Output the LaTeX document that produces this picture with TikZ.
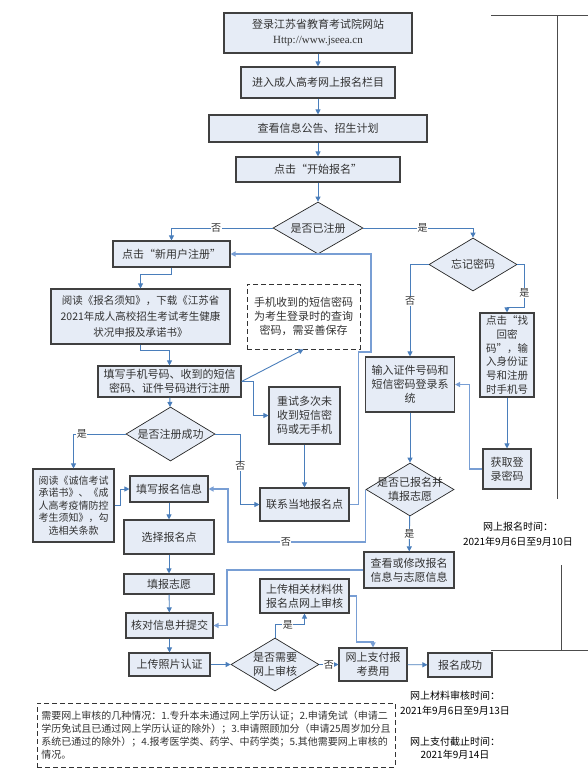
\documentclass[tikz,border=0pt]{standalone}
\usepackage{fontspec}
\setmainfont{Noto Sans CJK SC}
\newfontfamily\latinfont{Liberation Serif}
\usetikzlibrary{shapes.geometric,arrows.meta}
\definecolor{boxfill}{RGB}{230,236,246}
\definecolor{flowblue}{RGB}{74,126,187}
\definecolor{lightflow}{RGB}{120,158,212}

\begin{document}
\begin{tikzpicture}[x=1pt,y=-1pt,
    font=\fontsize{11}{14}\selectfont,
    box/.style 2 args={draw=black!75, line width=1.1pt, fill=boxfill, text=black!80, align=center, inner sep=1pt, minimum width=#1pt, minimum height=#2pt},
    decide/.style 2 args={diamond, draw=black!85, line width=0.7pt, fill=boxfill, inner sep=0pt, minimum width=#1pt, minimum height=#2pt},
    flow/.style={draw=flowblue, line width=0.9pt, -{Triangle[length=5pt,width=5pt]}},
    loopflow/.style={flow, draw=lightflow, line width=1.4pt},
    tag/.style={fill=white, inner sep=0.5pt, text=black!80, font=\fontsize{10}{12}\selectfont},
    notebox/.style={draw=black!80, dash pattern=on 5pt off 3pt, line width=0.8pt, text=black!80},
    bracket/.style={draw=black!70, line width=1pt}]
    \useasboundingbox (0,0) rectangle (588,777);

    % main column
    \node[box={188}{40}, font=\fontsize{11}{15}\selectfont] (login) at (318,33) {登录江苏省教育考试院网站\\{\latinfont Http://www.jseea.cn}};
    \node[box={154}{31}] (web) at (318,82.5) {进入成人高考网上报名栏目};
    \node[box={218}{27}] (notice) at (318,128.5) {查看信息公告、招生计划};
    \node[box={164}{25}] (start) at (318,169.5) {点击“开始报名”};
    \node[decide={90}{52}, label={[text=black!80]center:是否已注册}] (reg) at (318,228) {};

    % new user branch
    \node[box={117}{26}] (newuser) at (171.5,254) {点击“新用户注册”};
    \node[box={179}{55}, font=\fontsize{10.5}{16}\selectfont] (readnote) at (140.5,316.5) {阅读《报名须知》，下载《江苏省\\2021年成人高校招生考试考生健康\\状况申报及承诺书》};
    \node[notebox, minimum width=113pt, minimum height=65pt, align=center, fill=white] (tip) at (303.5,316.5) {手机收到的短信密码\\为考生登录时的查询\\密码，需妥善保存};
    \node[box={143}{31}] (phone) at (169.5,381.5) {填写手机号码、收到的短信\\密码、证件号码进行注册};
    \node[box={71}{57}] (retry) at (304.5,415.5) {重试多次未\\收到短信密\\码或无手机};
    \node[decide={89}{54}, label={[text=black!80]center:是否注册成功}] (success) at (170.5,434) {};
    \node[box={81}{73}, font=\fontsize{10}{12.5}\selectfont] (honest) at (73.5,505.5) {阅读《诚信考试\\承诺书》、《成\\人高考疫情防控\\考生须知》，勾\\选相关条款};
    \node[box={78}{26}] (fillinfo) at (169,489) {填写报名信息};
    \node[box={89}{33}] (contact) at (304.5,504.5) {联系当地报名点};
    \node[box={90}{34}] (choose) at (169,537) {选择报名点};
    \node[box={90}{20}] (wish) at (169,584) {填报志愿};
    \node[box={87}{25}] (check) at (169.5,625.5) {核对信息并提交};
    \node[box={81}{23}] (photo) at (169.5,664.5) {上传照片认证};
    \node[decide={88}{53}, label={[text=black!80, align=center]center:是否需要\\网上审核}] (needrev) at (275,664.5) {};
    \node[box={89}{34}] (upload) at (304.5,596) {上传相关材料供\\报名点网上审核};
    \node[box={68}{33}] (pay) at (373,664.5) {网上支付报\\考费用};
    \node[box={64}{24}] (done) at (460,665) {报名成功};

    % registered branch
    \node[decide={88}{53}, label={[text=black!80]center:忘记密码}] (forget) at (473,264.5) {};
    \node[box={54}{84}, font=\fontsize{10.5}{13.7}\selectfont] (findpwd) at (507,355) {点击“找\\回密\\码”，输\\入身份证\\号和注册\\时手机号};
    \node[box={48}{40}] (getpwd) at (507,469) {获取登\\录密码};
    \node[box={89}{55}] (login2) at (410,384.5) {输入证件号码和\\短信密码登录系\\统};
    \node[decide={88}{53}, label={[text=black!80, align=center]center:是否已报名并\\填报志愿}] (applied) at (410,489.5) {};
    \node[box={90}{36}] (modify) at (409,570) {查看或修改报名\\信息与志愿信息};

    % connectors
    \draw[flow] (login) -- (web);
    \draw[flow] (web) -- (notice);
    \draw[flow] (notice) -- (start);
    \draw[flow] (start) -- (reg);
    \draw[flow] (reg.west) -| node[tag, pos=0.28] {否} (newuser.north);
    \draw[flow] (reg.east) -| node[tag, pos=0.27] {是} (forget.north);
    \draw[flow] (forget.west) -| node[tag, pos=0.7] {否} (login2.north);
    \draw[flow] (forget.east) -| node[tag, pos=0.83] {是} ++(7,43) -| (findpwd.north);
    \draw[flow] (findpwd) -- (getpwd);
    \draw[loopflow] (getpwd.west) -- ++(-13,0) |- (login2.east);
    \draw[flow] (login2) -- (applied);
    \draw[flow] (applied) -- node[tag] {是} (modify);
    \draw[loopflow] (applied.west) |- node[tag, pos=0.79] {否} (228,542) |- (fillinfo.east);
    \draw[flow] (newuser.south) -- ++(0,7) -| (readnote.north);
    \draw[flow] (readnote.south) -- ++(0,6) -| (phone.north);
    \draw[flow] (phone) -- (success);
    \draw[flow] (phone.east) -- (tip.south);
    \draw[flow] (phone.east) -- ++(12,0) |- (retry.west);
    \draw[flow] (retry) -- (contact);
    \draw[loopflow] (contact.east) -- ++(9,0) |- (371,352) |- (newuser.east);
    \draw[flow] (success.west) -| node[tag, pos=0.42] {是} (honest.north);
    \draw[flow] (success.east) -- ++(25,0) |- node[tag, pos=0.23] {否} (contact.west);
    \draw[flow] (honest.east) -- ++(6,0) |- (fillinfo.west);
    \draw[flow] (fillinfo) -- (choose);
    \draw[flow] (choose) -- (wish);
    \draw[flow] (wish) -- (check);
    \draw[flow] (check) -- (photo);
    \draw[flow] (photo) -- (needrev);
    \draw[flow] (needrev.north) -- ++(0,-13) -| node[tag, pos=0.22] {是} (upload.south);
    \draw[flow] (needrev) -- node[tag] {否} (pay);
    \draw[loopflow] (upload.east) -| ++(7,46) -| (pay.north);
    \draw[flow] (pay) -- (done);
    \draw[loopflow] (modify.west) -- (227,570) |- (check.east);

    % time notes and brackets
    \draw[bracket] (491,15) -- (588,15) (557,15) -- (557,499);
    \draw[bracket] (561,565) -- (561,650) (491,650) -- (588,650);
    \node[align=center, font=\fontsize{10}{15}\selectfont] (regtime) at (518,534.5) {网上报名时间：\\2021年9月6日至9月10日};
    \node[align=center, font=\fontsize{10}{15}\selectfont] (revtime) at (455,703) {网上材料审核时间：\\2021年9月6日至9月13日};
    \node[align=center, font=\fontsize{10}{13}\selectfont] (paytime) at (455,748) {网上支付截止时间：\\2021年9月14日};

    % note at the bottom
    \node[notebox, minimum width=358pt, minimum height=64pt, align=left, inner sep=2pt, font=\fontsize{10}{13}\selectfont] (cases) at (216,735) {需要网上审核的几种情况：1.专升本未通过网上学历认证；2.申请免试（申请二\\学历免试且已通过网上学历认证的除外）；3.申请照顾加分（申请25周岁加分且\\系统已通过的除外）；4.报考医学类、药学、中药学类；5.其他需要网上审核的\\情况。};
\end{tikzpicture}
\end{document}
